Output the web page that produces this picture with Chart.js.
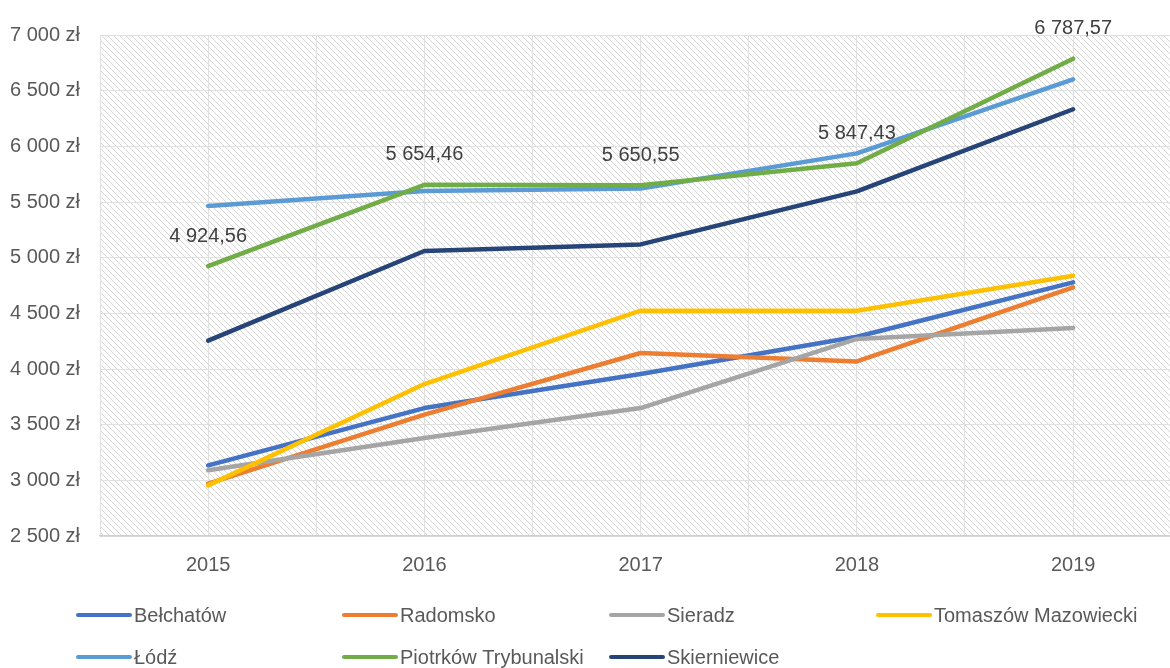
<!DOCTYPE html>
<html lang="pl">
<head>
<meta charset="UTF-8">
<title>Przeciętne wynagrodzenie 2015-2019</title>
<script src="https://cdn.jsdelivr.net/npm/chart.js@4/dist/chart.umd.min.js"></script>
<style>
    html, body { margin: 0; padding: 0; background: #fff; overflow: hidden; }
    #wrap { width: 1170px; height: 668px; }
</style>
</head>
<body>
<div id="wrap"><canvas id="wykres" width="1170" height="668"></canvas></div>
<script>
// dane
const lata = [2015, 2016, 2017, 2018, 2019];
const miasta = ['Bełchatów', 'Radomsko', 'Sieradz', 'Tomaszów Mazowiecki', 'Łódź', 'Piotrków Trybunalski', 'Skierniewice'];
const belchatow = [3135, 3649, 3955, 4290, 4778];
const radomsko = [2970, 3590, 4144, 4068, 4733];
const sieradz = [3090, 3380, 3649, 4270, 4369];
const tomaszow = [2955, 3865, 4524, 4524, 4838];
const lodz = [5464, 5599, 5622, 5937, 6602];
const piotrkow = [4924.56, 5654.46, 5650.55, 5847.43, 6787.57];
const skierniewice = [4255, 5060, 5119, 5595, 6333];
const kolory = ['#4472C4', '#ED7D31', '#A5A5A5', '#FFC000', '#5B9BD5', '#70AD47', '#264478'];
const yMin = 2500, yMax = 7000, yKrok = 500;

const serie = [belchatow, radomsko, sieradz, tomaszow, lodz, piotrkow, skierniewice];
const czcionka = "'Liberation Sans', Arial, sans-serif";
const rozmiar = 20;
const szary = '#595959';

function spacje(n) {
    return String(n).replace(/\B(?=(\d{3})+(?!\d))/g, ' ');
}
function kwota(v) {
    const [c, d] = v.toFixed(2).split('.');
    return spacje(c) + ',' + d;
}

// tło w ukośne paski
const tloPaski = {
    id: 'tloPaski',
    beforeDraw(chart) {
        const s = 6;
        const kafel = document.createElement('canvas');
        kafel.width = s; kafel.height = s;
        const k = kafel.getContext('2d');
        k.strokeStyle = '#d6d6d6';
        k.lineWidth = 1;
        [-s, 0, s].forEach(o => {
            k.beginPath(); k.moveTo(o, 0); k.lineTo(o + s, s); k.stroke();
        });
        const a = chart.chartArea;
        const ctx = chart.ctx;
        ctx.save();
        ctx.fillStyle = ctx.createPattern(kafel, 'repeat');
        ctx.fillRect(a.left, a.top, a.right - a.left, a.bottom - a.top);
        ctx.restore();
    }
};

// etykiety wartości dla Piotrkowa
const etykiety = {
    id: 'etykiety',
    afterDatasetsDraw(chart) {
        const ctx = chart.ctx;
        ctx.save();
        ctx.font = rozmiar + 'px ' + czcionka;
        ctx.fillStyle = '#404040';
        ctx.textAlign = 'center';
        ctx.textBaseline = 'middle';
        chart.data.datasets.forEach((ds, i) => {
            if (!ds.pokazEtykiety) return;
            chart.getDatasetMeta(i).data.forEach((p, j) => {
                ctx.fillText(kwota(ds.data[j].y), p.x, p.y - 30);
            });
        });
        ctx.restore();
    }
};

// legenda w układzie jak w Excelu
const legenda = {
    id: 'legenda',
    afterDraw(chart, args, opts) {
        const ctx = chart.ctx;
        ctx.save();
        ctx.font = rozmiar + 'px ' + czcionka;
        ctx.textBaseline = 'middle';
        chart.data.datasets.forEach((ds, i) => {
            const x = opts.kolumny[i % 4];
            const y = opts.wiersze[Math.floor(i / 4)];
            ctx.strokeStyle = ds.borderColor;
            ctx.lineWidth = 4;
            ctx.lineCap = 'round';
            ctx.beginPath();
            ctx.moveTo(x, y);
            ctx.lineTo(x + 52, y);
            ctx.stroke();
            ctx.fillStyle = szary;
            ctx.fillText(ds.label, x + 56, y + 1);
        });
        ctx.restore();
    }
};

const datasets = miasta.map((m, i) => ({
    label: m,
    data: lata.map((r, j) => ({ x: r, y: serie[i][j] })),
    borderColor: kolory[i],
    backgroundColor: kolory[i],
    borderWidth: 4.5,
    borderCapStyle: 'round',
    borderJoinStyle: 'round',
    pointRadius: 0,
    fill: false,
    order: miasta.length - i,
    pokazEtykiety: m === 'Piotrków Trybunalski'
}));

new Chart(document.getElementById('wykres'), {
    type: 'line',
    data: { datasets: datasets },
    plugins: [tloPaski, etykiety, legenda],
    options: {
        responsive: false,
        animation: false,
        layout: { padding: { top: 35, right: 0, bottom: 87, left: 0 } },
        plugins: {
            legend: { display: false },
            tooltip: { enabled: false },
            legenda: { kolumny: [78, 344, 611, 878], wiersze: [615, 657] }
        },
        scales: {
            x: {
                type: 'linear',
                min: lata[0] - 0.5,
                max: lata[0] - 0.5 + 1070 / 216.25,
                afterBuildTicks: s => { s.ticks = s.ticks.filter(t => Number.isInteger(t.value * 2)); },
                afterFit: s => { s.height = 45; },
                ticks: {
                    stepSize: 0.5,
                    includeBounds: false,
                    autoSkip: false,
                    maxRotation: 0,
                    padding: 17,
                    color: szary,
                    font: { family: czcionka, size: rozmiar },
                    callback: v => Number.isInteger(v) ? String(v) : ''
                },
                grid: { color: '#e0e0e0', lineWidth: 1, drawTicks: false },
                border: { display: true, color: '#d0d0d0', width: 1.5 }
            },
            y: {
                min: yMin,
                max: yMax,
                afterFit: s => { s.width = 100; },
                ticks: {
                    stepSize: yKrok,
                    padding: 20,
                    color: szary,
                    font: { family: czcionka, size: rozmiar },
                    callback: v => spacje(v) + ' zł'
                },
                grid: { color: '#e0e0e0', lineWidth: 1, drawTicks: false },
                border: { display: false }
            }
        }
    }
});
</script>
</body>
</html>
